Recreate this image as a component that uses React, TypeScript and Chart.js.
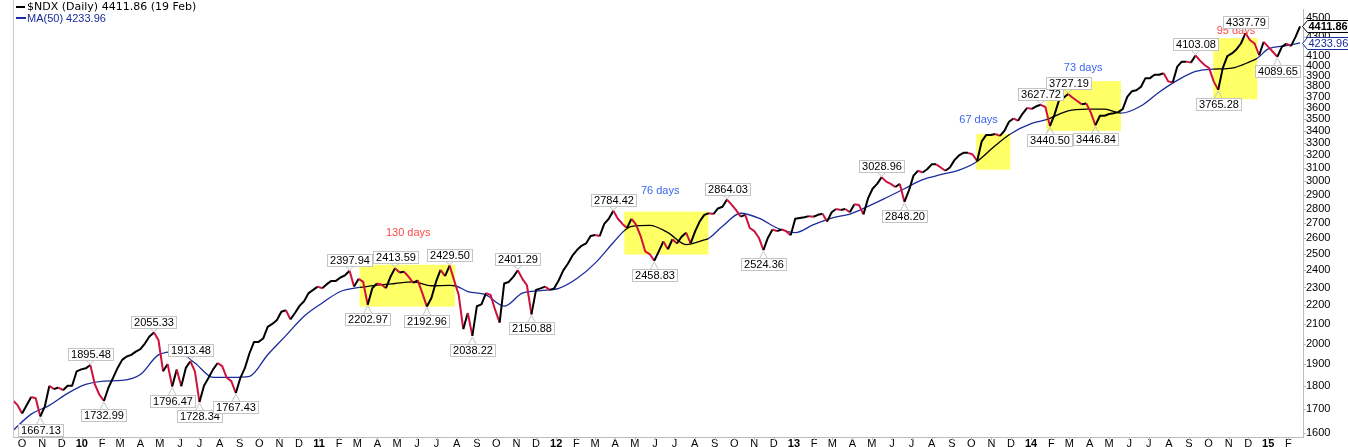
import React, { useEffect, useRef } from 'react';
import { Chart, registerables } from 'chart.js';

Chart.register(...registerables);

// ---------- DATA ----------
// Weekly samples of $NDX (one value per week, first sample on 2009-09-17)
const FIRST_SAMPLE = [2009, 8, 17]; // year, monthIndex, day
const LAST_DATE_TEXT = '19 Feb';

const close2009 = [1735, 1715, 1680, 1715, 1750, 1745, 1667.13, 1710, 1800, 1785, 1792, 1780, 1800, 1800, 1866, 1875];
const close2010 = [1880, 1895.48, 1806, 1760, 1732.99, 1792, 1836, 1882, 1920, 1936, 1944, 1960, 1972, 2000, 2035, 2055.33,
  2016, 1866, 1900, 1796.47, 1875, 1798, 1882, 1913.48, 1866, 1728.34, 1800, 1836, 1875, 1905, 1890, 1836, 1821, 1767.43,
  1836, 1882, 1952, 2008, 2008, 2025, 2085, 2100, 2120, 2165, 2173, 2124, 2158, 2197, 2222, 2268, 2286, 2305];
const close2011 = [2296, 2319, 2338, 2338, 2358, 2371, 2397.94, 2305, 2350, 2332, 2202.97, 2296, 2323, 2317, 2296, 2362,
  2413.59, 2388, 2392, 2362, 2327, 2341, 2268, 2192.96, 2240, 2332, 2403, 2366, 2429.50, 2341, 2258, 2073, 2158, 2038.22,
  2195, 2205, 2268, 2258, 2176, 2107, 2323, 2332, 2362, 2401.29, 2350, 2313, 2150.88, 2286, 2295, 2305, 2286, 2295];
const close2012 = [2342, 2400, 2440, 2490, 2525, 2552, 2567, 2615, 2622, 2615, 2695, 2730, 2784.42, 2730, 2695, 2668, 2730,
  2690, 2615, 2517, 2500, 2458.83, 2517, 2580, 2530, 2594, 2567, 2610, 2637, 2567, 2647, 2712, 2757, 2768, 2762, 2801, 2813,
  2864.03, 2828, 2790, 2745, 2757, 2668, 2647, 2604, 2524.36, 2604, 2658, 2647, 2658, 2647, 2620];
const close2013 = [2730, 2735, 2740, 2748, 2744, 2757, 2765, 2711, 2775, 2797, 2790, 2797, 2775, 2830, 2826, 2760, 2872,
  2942, 2978, 3028.96, 2995, 2978, 2955, 2978, 2848.20, 2930, 3040, 3077, 3064, 3089, 3127, 3127, 3102, 3077, 3102, 3160,
  3197, 3218, 3218, 3205, 3153, 3312, 3365, 3365, 3373, 3357, 3400, 3477, 3506, 3486, 3549, 3600];
const close2014 = [3590, 3614, 3627.72, 3608, 3440.50, 3540, 3670, 3692, 3727.19, 3692, 3662, 3632, 3640, 3558, 3446.84,
  3530, 3530, 3545, 3552, 3562, 3588, 3700, 3752, 3762, 3793, 3877, 3877, 3910, 3910, 3925, 3846, 3836, 3990, 4040, 4040,
  4030, 4103.08, 4050, 4006, 3975, 3846, 3765.28, 3975, 4097, 4124, 4165, 4227, 4337.79, 4262, 4227, 4105, 4245];
const close2015 = [4192, 4141, 4089.65, 4192, 4227, 4200, 4297, 4411.86];

// 50-day moving average, read at these week numbers
const maWeeks = [0, 4, 8, 12, 16, 20, 24, 28, 32, 36, 40, 44, 48, 52, 56, 60, 64, 68, 72, 76.2, 80, 84, 88, 92, 96, 97.2,
  100, 104, 108, 112, 116, 120, 124, 128, 132, 134.4, 136, 140, 144, 148, 152, 152.9, 156, 160, 164, 168, 172, 176, 180,
  184, 188, 192, 196, 200, 204, 208, 211.8, 216, 219.3, 224, 227.2, 232, 236, 240, 243.6, 248, 252, 256, 260, 263.9, 268,
  272, 273.6, 276, 280, 283];
const maValues = [1610, 1677, 1714, 1766, 1806, 1821, 1824, 1851, 1944, 1960, 1905, 1838, 1838, 1843, 1945, 2040, 2141,
  2213, 2277, 2300, 2313, 2323, 2332, 2310, 2312, 2310, 2277, 2258, 2195, 2268, 2282, 2295, 2352, 2444, 2573, 2650, 2679,
  2685, 2637, 2560, 2590, 2598, 2679, 2768, 2734, 2668, 2637, 2690, 2735, 2762, 2816, 2877, 2942, 3010, 3047, 3082, 3145,
  3277, 3373, 3463, 3495, 3573, 3588, 3588, 3553, 3617, 3743, 3855, 3942, 3965, 3975, 4040, 4075, 4170, 4205, 4233.96];

// Highlighted cycles (week ranges and price ranges)
const boxFromWeek = [76.2, 134.4, 211.8, 227.2, 263.9];
const boxToWeek = [97.2, 152.9, 219.3, 243.6, 273.6];
const boxLow = [2193, 2497, 3086, 3400, 3678];
const boxHigh = [2434, 2779, 3373, 3848, 4283];
const boxText = ['130 days', '76 days', '67 days', '73 days', '95 days'];
const boxTextWeek = [86.9, 142.3, 212.3, 235.3, 268.9];
const boxTextValue = [2637, 2924, 3489, 3974, 4363];
const boxTextKind = ['red', 'blue', 'blue', 'blue', 'red'];

// Annotated highs / lows (week number, side)
const noteWeeks = [6, 17, 20, 31, 35, 39, 41, 49, 74, 78, 84, 91, 96, 101, 111, 114, 132, 141, 157, 165, 191, 196, 226,
  228, 232, 238, 260, 265, 271, 278];
const noteAbove = [false, true, false, true, false, true, false, false, true, false, true, false, true, false, true, false,
  true, false, true, false, true, false, true, false, true, false, true, false, true, false];

const yTicks = [1600, 1700, 1800, 1900, 2000, 2100, 2200, 2300, 2400, 2500, 2600, 2700, 2800, 2900, 3000, 3100, 3200,
  3300, 3400, 3500, 3600, 3700, 3800, 3900, 4000, 4100, 4200, 4300, 4400, 4500];
const monthLetters = ['J', 'F', 'M', 'A', 'M', 'J', 'J', 'A', 'S', 'O', 'N', 'D'];
const FIRST_TICK_MONTH = [2009, 9];
const LAST_TICK_MONTH = [2015, 1];
const X_MAX_DAY = 1985.5;
const Y_MIN = 1584;
const Y_MAX = 4600;

// ---------- STYLE ----------
const RED = '#D0103C';
const BLACK = '#000000';
const NAVY = '#1A2C9C';
const YELLOW = '#FFFF66';
const LABEL_RED = '#FF4A4A';
const LABEL_BLUE = '#3A66F2';
const FONT = '"Liberation Sans", Arial, sans-serif';

const closes = [...close2009, ...close2010, ...close2011, ...close2012, ...close2013, ...close2014, ...close2015];
const DAY = 86400000;
const START = Date.UTC(FIRST_SAMPLE[0], FIRST_SAMPLE[1], FIRST_SAMPLE[2]);

const monthTicks: { value: number; label: string; year: boolean }[] = [];
{
  let y = FIRST_TICK_MONTH[0];
  let m = FIRST_TICK_MONTH[1];
  while (y < LAST_TICK_MONTH[0] || (y === LAST_TICK_MONTH[0] && m <= LAST_TICK_MONTH[1])) {
    const d = (Date.UTC(y, m, 1) - START) / DAY;
    monthTicks.push({ value: d, label: m === 0 ? String(y % 100).padStart(2, '0') : monthLetters[m], year: m === 0 });
    m++;
    if (m > 11) { m = 0; y++; }
  }
}
const tickLabel = (v: number) => {
  const t = monthTicks.find((mt) => Math.abs(mt.value - v) < 0.01);
  return t ? t.label : '';
};
const tickIsYear = (v: number) => {
  const t = monthTicks.find((mt) => Math.abs(mt.value - v) < 0.01);
  return t ? t.year : false;
};

const priceData = closes.map((c, i) => ({ x: i * 7, y: c }));
const maData = maWeeks.map((w, k) => ({ x: w * 7, y: maValues[k] }));

const inBox = (x0: number, x1: number) =>
  boxFromWeek.some((f, k) => x0 >= f * 7 - 0.01 && x1 <= boxToWeek[k] * 7 + 0.01);

function drawCallout(ctx: CanvasRenderingContext2D, px: number, py: number, text: string, above: boolean) {
  ctx.font = '11px ' + FONT;
  const w = Math.round(ctx.measureText(text).width) + 5;
  const h = 12;
  const gap = above ? 5 : 8;
  const bx = Math.round(px - w / 2) + 0.5;
  const by = above ? Math.round(py - gap - h) + 0.5 : Math.round(py + gap) + 0.5;
  ctx.strokeStyle = '#C4C4C4';
  ctx.lineWidth = 1;
  const edge = above ? by + h : by;
  ctx.beginPath();
  ctx.moveTo(px - 4, edge);
  ctx.lineTo(px, above ? py - 1 : py + 1);
  ctx.lineTo(px + 4, edge);
  ctx.stroke();
  ctx.fillStyle = '#FFFFFF';
  ctx.fillRect(bx, by, w, h);
  ctx.strokeRect(bx, by, w, h);
  ctx.fillStyle = '#000000';
  ctx.textAlign = 'center';
  ctx.textBaseline = 'middle';
  ctx.fillText(text, bx + w / 2, by + h / 2 + 0.5);
}

function drawTag(ctx: CanvasRenderingContext2D, xTip: number, cy: number, text: string, color: string, bold: boolean) {
  ctx.font = (bold ? 'bold ' : '') + '11px ' + FONT;
  const w = Math.round(ctx.measureText(text).width) + 2;
  const h = 12;
  const top = Math.round(cy - h / 2) + 0.5;
  const left = xTip + 4.5;
  ctx.beginPath();
  ctx.moveTo(xTip - 0.5, top + h / 2);
  ctx.lineTo(left, top);
  ctx.lineTo(left + w, top);
  ctx.lineTo(left + w, top + h);
  ctx.lineTo(left, top + h);
  ctx.closePath();
  ctx.fillStyle = '#FFFFFF';
  ctx.fill();
  ctx.strokeStyle = color;
  ctx.lineWidth = 1;
  ctx.stroke();
  ctx.fillStyle = color;
  ctx.textAlign = 'left';
  ctx.textBaseline = 'middle';
  ctx.fillText(text, left + 1, top + h / 2 + 0.5);
}

const overlay = {
  id: 'overlay',
  beforeDatasetsDraw(chart: any) {
    const { ctx, scales } = chart;
    const x = scales.x;
    const y = scales.y;
    ctx.save();
    ctx.fillStyle = YELLOW;
    boxFromWeek.forEach((f, k) => {
      const x0 = x.getPixelForValue(f * 7);
      const x1 = x.getPixelForValue(boxToWeek[k] * 7);
      const y0 = y.getPixelForValue(boxHigh[k]);
      const y1 = y.getPixelForValue(boxLow[k]);
      ctx.fillRect(x0, y0, x1 - x0, y1 - y0);
    });
    ctx.restore();
  },
  afterDraw(chart: any) {
    const { ctx, scales, chartArea } = chart;
    const x = scales.x;
    const y = scales.y;
    ctx.save();
    // frame left line
    ctx.strokeStyle = '#C8C8C8';
    ctx.lineWidth = 1;
    ctx.beginPath();
    ctx.moveTo(chartArea.left + 0.5, 0);
    ctx.lineTo(chartArea.left + 0.5, chartArea.bottom);
    ctx.stroke();
    // x tick marks
    ctx.strokeStyle = '#B8B8B8';
    monthTicks.forEach((t) => {
      const px = Math.round(x.getPixelForValue(t.value)) + 0.5;
      ctx.beginPath();
      ctx.moveTo(px, chartArea.bottom);
      ctx.lineTo(px, chartArea.bottom + 3);
      ctx.stroke();
    });
    // y tick marks
    yTicks.forEach((v) => {
      const py = Math.round(y.getPixelForValue(v)) + 0.5;
      ctx.beginPath();
      ctx.moveTo(chartArea.right, py);
      ctx.lineTo(chartArea.right + 3, py);
      ctx.stroke();
    });

    // cycle labels
    ctx.font = '11px ' + FONT;
    ctx.textAlign = 'center';
    ctx.textBaseline = 'middle';
    boxText.forEach((t, k) => {
      ctx.fillStyle = boxTextKind[k] === 'red' ? LABEL_RED : LABEL_BLUE;
      ctx.fillText(t, x.getPixelForValue(boxTextWeek[k] * 7), y.getPixelForValue(boxTextValue[k]));
    });

    // callouts
    noteWeeks.forEach((w, k) => {
      const v = closes[w];
      drawCallout(ctx, x.getPixelForValue(w * 7), y.getPixelForValue(v), v.toFixed(2), noteAbove[k]);
    });

    // right side tags
    const lastClose = closes[closes.length - 1];
    const lastMa = maValues[maValues.length - 1];
    drawTag(ctx, chartArea.right, y.getPixelForValue(lastMa), lastMa.toFixed(2), NAVY, false);
    drawTag(ctx, chartArea.right, y.getPixelForValue(lastClose), lastClose.toFixed(2), BLACK, true);

    // legend
    ctx.textAlign = 'left';
    ctx.textBaseline = 'middle';
    ctx.fillStyle = BLACK;
    ctx.fillRect(16, 6, 9, 2);
    ctx.font = '11px "DejaVu Sans", Verdana, sans-serif';
    ctx.fillText('$NDX (Daily) ' + lastClose.toFixed(2) + ' (' + LAST_DATE_TEXT + ')', 27, 7.5);
    ctx.fillStyle = NAVY;
    ctx.fillRect(16, 17, 10, 2);
    ctx.font = '11px ' + FONT;
    ctx.fillText('MA(50) ' + lastMa.toFixed(2), 27, 18.5);
    ctx.restore();
  },
};

export default function App() {
  const ref = useRef<HTMLCanvasElement>(null);
  useEffect(() => {
    document.body.style.margin = '0';
    const canvas = ref.current as HTMLCanvasElement;
    const chart = new Chart(canvas, {
      type: 'line',
      data: {
        datasets: [
          {
            label: '$NDX',
            data: priceData,
            borderWidth: 2,
            borderColor: BLACK,
            pointRadius: 0,
            tension: 0,
            borderJoinStyle: 'round',
            segment: {
              borderColor: (c: any) => (c.p1.parsed.y < c.p0.parsed.y ? RED : BLACK),
            },
          },
          {
            label: 'MA(50)',
            data: maData,
            borderWidth: 1.3,
            borderColor: NAVY,
            pointRadius: 0,
            cubicInterpolationMode: 'monotone',
            segment: {
              borderColor: (c: any) => (inBox(c.p0.parsed.x, c.p1.parsed.x) ? BLACK : NAVY),
            },
          },
        ],
      } as any,
      options: {
        responsive: false,
        devicePixelRatio: 1,
        animation: false,
        events: [],
        layout: { padding: { left: 13, top: 0, right: 0, bottom: 0 } },
        plugins: { legend: { display: false }, tooltip: { enabled: false } },
        scales: {
          x: {
            type: 'linear',
            min: 0,
            max: X_MAX_DAY,
            afterBuildTicks: (s: any) => {
              s.ticks = monthTicks.map((t) => ({ value: t.value }));
            },
            afterFit: (s: any) => {
              s.height = 10;
            },
            grid: { drawOnChartArea: false, drawTicks: false },
            border: { display: true, color: '#BDBDBD' },
            ticks: {
              autoSkip: false,
              maxRotation: 0,
              padding: 0,
              color: '#000',
              callback: (v: any) => tickLabel(Number(v)),
              font: (c: any) => ({
                family: FONT,
                size: 11,
                weight: c.tick && tickIsYear(c.tick.value) ? 'bold' : 'normal',
              }),
            },
          },
          y: {
            type: 'logarithmic',
            position: 'right',
            min: Y_MIN,
            max: Y_MAX,
            afterBuildTicks: (s: any) => {
              s.ticks = yTicks.map((v) => ({ value: v }));
            },
            afterFit: (s: any) => {
              s.width = 45;
            },
            grid: { drawOnChartArea: false, drawTicks: false },
            border: { display: true, color: '#BDBDBD' },
            ticks: {
              autoSkip: false,
              padding: 3,
              color: '#000',
              font: { family: FONT, size: 11 },
              callback: (v: any) => String(v),
            },
          },
        },
      } as any,
      plugins: [overlay],
    });
    return () => chart.destroy();
  }, []);
  return (
    <canvas
      ref={ref}
      width={1348}
      height={447}
      style={{ display: 'block', width: '1348px', height: '447px' }}
    />
  );
}
